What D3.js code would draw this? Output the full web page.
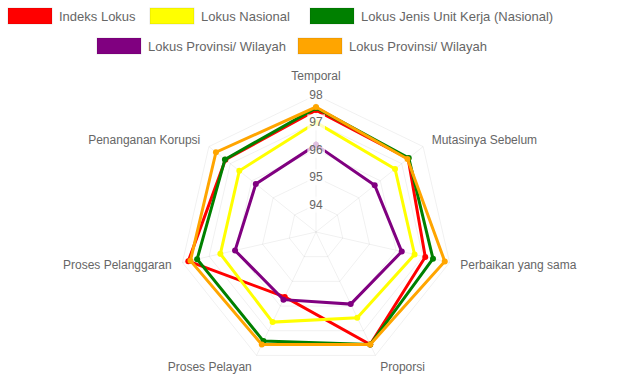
<!DOCTYPE html>
<html><head><meta charset="utf-8">
<script src="https://cdn.jsdelivr.net/npm/d3@7"></script>
<style>body{margin:0;background:#fff}svg{display:block}text{font-family:"Liberation Sans",Arial,sans-serif}</style>
</head><body><svg id="c" width="622" height="378"></svg>
<script>
const axes = ["Temporal","Mutasinya Sebelum","Perbaikan yang sama","Proporsi","Proses Pelayan","Proses Pelanggaran","Penanganan Korupsi"];
const seriesNames = ["Indeks Lokus","Lokus Nasional","Lokus Jenis Unit Kerja (Nasional)","Lokus Provinsi/ Wilayah","Lokus Provinsi/ Wilayah"];
const seriesColors = ["#ff0000","#ffff00","#008000","#800080","#ffa500"];
const indeksLokus   = [97.45,97.30,97.09,97.56,95.63,97.78,97.23];
const lokusNasional = [97.00,96.69,96.69,96.47,96.65,96.58,96.58];
const lokusJenis    = [97.53,97.33,97.38,97.56,97.42,97.45,97.25];
const lokusProvA    = [96.18,95.74,96.21,95.92,95.74,96.03,95.81];
const lokusProvB    = [97.56,97.27,97.82,97.56,97.56,97.70,97.67];
const ticks = [94,95,96,97,98];
const domain = [93,98];

const series = [indeksLokus, lokusNasional, lokusJenis, lokusProvA, lokusProvB];
const svg = d3.select("#c");
const cx = 316, cy = 232, R = 137;
const r = d3.scaleLinear().domain(domain).range([0,R]);
const n = axes.length;
const ang = i => -Math.PI/2 + i*2*Math.PI/n;
const pt = (i,rad) => [cx + rad*Math.cos(ang(i)), cy + rad*Math.sin(ang(i))];

// grid
const g = svg.append("g");
ticks.forEach(t => {
  g.append("polygon").attr("points", axes.map((_,i)=>pt(i,r(t)).join(",")).join(" "))
   .attr("fill","none").attr("stroke","rgba(0,0,0,0.06)").attr("stroke-width",1);
});
axes.forEach((_,i)=>{
  const p = pt(i,R);
  g.append("line").attr("x1",cx).attr("y1",cy).attr("x2",p[0]).attr("y2",p[1])
   .attr("stroke","rgba(0,0,0,0.06)");
});

// series
const line = d3.line().curve(d3.curveLinearClosed);
series.forEach((s,k)=>{
  const pts = s.map((v,i)=>pt(i,r(v)));
  svg.append("path").attr("d", line(pts)).attr("fill","none")
    .attr("stroke",seriesColors[k]).attr("stroke-width",3).attr("stroke-linejoin","miter");
  svg.selectAll(null).data(pts).enter().append("circle")
    .attr("cx",d=>d[0]).attr("cy",d=>d[1]).attr("r",3).attr("fill",seriesColors[k]);
});

// tick labels
ticks.forEach(t=>{
  const y = cy - r(t);
  const txt = svg.append("text").attr("x",cx).attr("y",y).attr("text-anchor","middle")
    .attr("dominant-baseline","central").attr("font-size",12).attr("fill","#666").text(t);
  const bb = txt.node().getBBox();
  svg.insert("rect", () => txt.node()).attr("x",bb.x-2).attr("y",bb.y-1).attr("width",bb.width+4).attr("height",bb.height+2)
    .attr("fill","rgba(255,255,255,0.75)");
});

// point labels
const LR = 148;
axes.forEach((a,i)=>{
  const c = Math.cos(ang(i)), s = Math.sin(ang(i));
  let [x,y] = pt(i,LR);
  let anchor = Math.abs(c) < 0.05 ? "middle" : (c > 0 ? "start" : "end");
  if (s < -0.9) y -= 8;
  else if (s > 0.8) y += 2;
  svg.append("text").attr("x",x).attr("y",y).attr("text-anchor",anchor)
    .attr("dominant-baseline","central").attr("font-size",12).attr("fill","#666").text(a);
});

// legend
const legendPos = [[8,16],[150,16],[310,16],[97,46],[298,46]];
seriesNames.forEach((nm,k)=>{
  const [x,y] = legendPos[k];
  svg.append("rect").attr("x",x).attr("y",y-8).attr("width",44).attr("height",16)
    .attr("fill",seriesColors[k]).attr("stroke","rgba(0,0,0,0.1)");
  svg.append("text").attr("x",x+51).attr("y",y).attr("dominant-baseline","central")
    .attr("font-size",13).attr("fill","#666").text(nm);
});
</script></body></html>
